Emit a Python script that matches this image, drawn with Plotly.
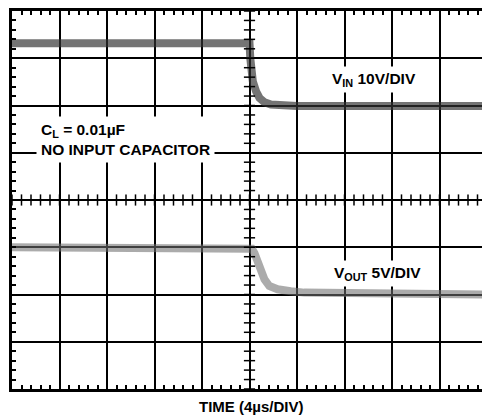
import numpy as np
import plotly.graph_objects as go

# ---- data (time in µs, 4 µs/div; trace positions in screen divisions 0..8) ----
vin_time_us = [0, 20.0, 20.07, 20.13, 20.28, 20.55, 20.84, 21.26, 21.8, 24.0, 40]
vin_div = [7.32, 7.32, 6.99, 6.78, 6.51, 6.30, 6.16, 6.07, 6.02, 5.99, 5.99]

vout_time_us = [0, 20.0, 20.2, 20.42, 20.7, 20.97, 21.26, 21.67, 22.37, 23.48, 24.6, 40]
vout_div = [3.0, 3.0, 2.97, 2.875, 2.70, 2.49, 2.32, 2.18, 2.11, 2.07, 2.04, 2.0]

x_range = [0, 40]
y_range = [0, 8]
x_major, x_minor = 4, 0.8
y_major, y_minor = 1, 0.2

label_cl = "<b>C<sub>L</sub> = 0.01µF<br>NO INPUT CAPACITOR</b>"
label_vin = "<b>V<sub>IN</sub> 10V/DIV</b>"
label_vout = "<b>V<sub>OUT</sub> 5V/DIV</b>"
label_time = "<b>TIME (4µs/DIV)</b>"

FONT = "Liberation Sans, Arial, sans-serif"

fig = go.Figure()

fig.add_trace(go.Scatter(
    x=vin_time_us, y=vin_div, mode="lines",
    line=dict(color="rgba(50,50,50,0.68)", width=8),
    hoverinfo="skip", showlegend=False))

fig.add_trace(go.Scatter(
    x=vout_time_us, y=vout_div, mode="lines",
    line=dict(color="rgba(110,110,110,0.58)", width=8),
    hoverinfo="skip", showlegend=False))

# crossing tick marks on the centre graticule lines
cx = (x_range[0] + x_range[1]) / 2
cy = (y_range[0] + y_range[1]) / 2
xt = np.arange(x_range[0], x_range[1] + 1e-9, x_minor)
yt = np.arange(y_range[0], y_range[1] + 1e-9, y_minor)
fig.add_trace(go.Scatter(
    x=xt, y=np.full(len(xt), cy), mode="markers",
    marker=dict(symbol="line-ns", size=8, line=dict(width=1.5, color="black")),
    hoverinfo="skip", showlegend=False))
fig.add_trace(go.Scatter(
    x=np.full(len(yt), cx), y=yt, mode="markers",
    marker=dict(symbol="line-ew", size=8, line=dict(width=1.5, color="black")),
    hoverinfo="skip", showlegend=False))

axis_common = dict(
    showgrid=True, gridcolor="black", gridwidth=1.5,
    zeroline=False, showticklabels=False,
    showline=True, linecolor="black", linewidth=2.5, mirror="ticks",
    ticks="inside", ticklen=4, tickwidth=1.5, tickcolor="black",
)

fig.update_xaxes(range=x_range, dtick=x_major, tick0=0,
                 minor=dict(dtick=x_minor, tick0=0, ticks="inside", ticklen=4,
                            tickwidth=1.5, tickcolor="black", showgrid=False),
                 **axis_common)
fig.update_yaxes(range=y_range, dtick=y_major, tick0=0,
                 minor=dict(dtick=y_minor, tick0=0, ticks="inside", ticklen=4,
                            tickwidth=1.5, tickcolor="black", showgrid=False),
                 **axis_common)

ann_font = dict(family=FONT, size=15.5, color="black")
fig.add_annotation(x=2.0, y=5.29, xref="x", yref="y", xanchor="left", yanchor="middle",
                   text=label_cl, showarrow=False, align="left",
                   bgcolor="white", borderpad=4, font=ann_font)
fig.add_annotation(x=30.5, y=6.54, xref="x", yref="y", xanchor="center", yanchor="middle",
                   text=label_vin, showarrow=False, bgcolor="white", borderpad=3, font=ann_font)
fig.add_annotation(x=30.8, y=2.44, xref="x", yref="y", xanchor="center", yanchor="middle",
                   text=label_vout, showarrow=False, bgcolor="white", borderpad=3, font=ann_font)
fig.add_annotation(x=0.504, y=-0.045, xref="paper", yref="paper", xanchor="center", yanchor="middle",
                   text=label_time, showarrow=False, font=dict(family=FONT, size=15, color="black"))

# page body has an 8px margin, so the figure is sized/offset to land the plot area
# at the reference's pixel positions
fig.update_layout(
    width=482, height=410,
    margin=dict(l=4, r=0, t=0, b=29),
    paper_bgcolor="white", plot_bgcolor="white",
    showlegend=False,
)

fig.write_html("out.html")
